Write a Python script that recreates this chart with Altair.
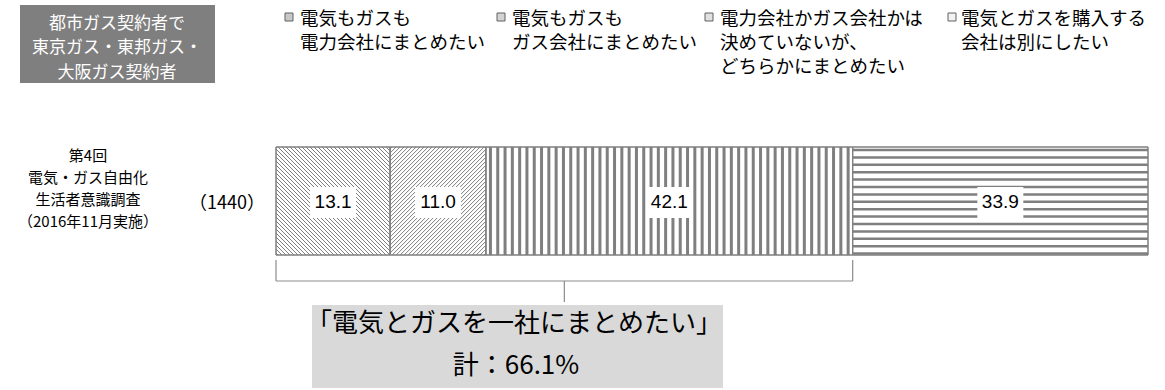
import altair as alt
import pandas as pd

# ---------------- data ----------------
categories = [
    "電気もガスも\n電力会社にまとめたい",
    "電気もガスも\nガス会社にまとめたい",
    "電力会社かガス会社かは\n決めていないが、\nどちらかにまとめたい",
    "電気とガスを購入する\n会社は別にしたい",
]
values = [13.1, 11.0, 42.1, 33.9]
patterns = ["back", "fwd", "vert", "horiz"]
row_label = ["第4回", "電気・ガス自由化", "生活者意識調査", "（2016年11月実施）"]
n_label = "（1440）"
group_title = "都市ガス契約者で\n東京ガス・東邦ガス・\n大阪ガス契約者"
total_title = "「電気とガスを一社にまとめたい」"
total_text = "計：66.1%"
grouped_count = 3  # first three segments form the bracket

# ---------------- layout constants ----------------
W, H = 1165, 390
X_RANGE = [276, 1148]
Y_RANGE = [147, 255]
JP = "Noto Sans CJK JP"
GRAY = "#7f7f7f"

total = sum(values)
starts = [sum(values[:i]) for i in range(len(values))]
ends = [s + v for s, v in zip(starts, values)]
mids = [s + v / 2 for s, v in zip(starts, values)]
PX = (X_RANGE[1] - X_RANGE[0]) / total
BAR_H = Y_RANGE[1] - Y_RANGE[0]

xs = alt.Scale(domain=[0, total], range=X_RANGE)
ys = alt.Scale(domain=[0, 1], range=Y_RANGE)

bar_df = pd.DataFrame({
    "cat": categories, "value": values, "start": starts, "end": ends,
    "mid": mids, "y0": 0.0, "y1": 1.0,
    "label": [f"{v:.1f}" for v in values],
    "bx0": [m - 23 / PX for m in mids], "bx1": [m + 23 / PX for m in mids],
    "by0": (187 - Y_RANGE[0]) / BAR_H, "by1": (218 - Y_RANGE[0]) / BAR_H,
})

# hatch lines derived from segment extents
rows = []
for s, v, pat in zip(starts, values, patterns):
    Wp = v * PX
    Hp = BAR_H
    if pat == "vert":
        u = 4.5
        while u < Wp - 1:
            rows.append(dict(x=s + u / PX, x2=s + u / PX, y=0.0, y2=1.0, w=3.0))
            u += 7.3
    elif pat == "horiz":
        t = 3.0
        while t < Hp - 1:
            rows.append(dict(x=s, x2=s + v, y=t / Hp, y2=t / Hp, w=2.5))
            t += 7.4
    elif pat == "back":
        step = 4.0
        c = -Hp + step / 2
        while c < Wp:
            u0, u1 = max(0, c), min(Wp, Hp + c)
            if u1 > u0:
                rows.append(dict(x=s + u0 / PX, x2=s + u1 / PX,
                                 y=(u0 - c) / Hp, y2=(u1 - c) / Hp, w=1.0))
            c += step
    elif pat == "fwd":
        step = 4.0
        c = step / 2
        while c < Wp + Hp:
            u0, u1 = max(0, c - Hp), min(Wp, c)
            if u1 > u0:
                rows.append(dict(x=s + u0 / PX, x2=s + u1 / PX,
                                 y=(c - u0) / Hp, y2=(c - u1) / Hp, w=1.0))
            c += step
hatch_df = pd.DataFrame(rows)

base = alt.Chart(bar_df)

bars = base.mark_rect(fill="white", stroke=GRAY, strokeWidth=1).encode(
    x=alt.X("start:Q", scale=xs, axis=None), x2="end:Q",
    y=alt.Y("y0:Q", scale=ys, axis=None), y2="y1:Q",
)
hatch = alt.Chart(hatch_df).mark_rule(color=GRAY).encode(
    x=alt.X("x:Q", scale=xs, axis=None), x2="x2:Q",
    y=alt.Y("y:Q", scale=ys, axis=None), y2="y2:Q",
    strokeWidth=alt.StrokeWidth("w:Q", scale=None),
)
outline = base.mark_rect(fillOpacity=0, stroke=GRAY, strokeWidth=1).encode(
    x=alt.X("start:Q", scale=xs, axis=None), x2="end:Q",
    y=alt.Y("y0:Q", scale=ys, axis=None), y2="y1:Q",
)
lab_box = base.mark_rect(fill="white").encode(
    x=alt.X("bx0:Q", scale=xs, axis=None), x2="bx1:Q",
    y=alt.Y("by0:Q", scale=ys, axis=None), y2="by1:Q",
)
lab_txt = base.mark_text(font="Liberation Sans", fontSize=19, color="black",
                         baseline="middle", align="center").encode(
    x=alt.X("mid:Q", scale=xs, axis=None),
    y=alt.value((Y_RANGE[0] + Y_RANGE[1]) / 2 + 1),
    text="label:N",
)

# bracket over the first three segments
br_df = pd.DataFrame({"a": [0.0], "b": [ends[grouped_count - 1]],
                      "m": [ends[grouped_count - 1] / 2]})
brc = alt.Chart(br_df)
br_color = "#8c8c8c"
br_left = brc.mark_rule(color=br_color, strokeWidth=1.2).encode(
    x=alt.X("a:Q", scale=xs, axis=None), y=alt.value(260), y2=alt.value(281))
br_right = brc.mark_rule(color=br_color, strokeWidth=1.2).encode(
    x=alt.X("b:Q", scale=xs, axis=None), y=alt.value(260), y2=alt.value(281))
br_h = brc.mark_rule(color=br_color, strokeWidth=1.2).encode(
    x=alt.X("a:Q", scale=xs, axis=None), x2="b:Q", y=alt.value(281))
br_mid = brc.mark_rule(color=br_color, strokeWidth=1.2).encode(
    x=alt.X("m:Q", scale=xs, axis=None), y=alt.value(281), y2=alt.value(302))


def ptext(txt, x, y_first, size, align="center", color="black", lh=None, font=JP):
    kw = dict(font=font, fontSize=size, align=align, baseline="middle", color=color,
              lineBreak="\n")
    if lh:
        kw["lineHeight"] = lh
    return alt.Chart(pd.DataFrame({"t": [txt]})).mark_text(**kw).encode(
        x=alt.value(x), y=alt.value(y_first), text="t:N")


def prect(x0, x1, y0, y1, fill, stroke=None):
    kw = dict(fill=fill)
    if stroke:
        kw.update(stroke=stroke, strokeWidth=1)
    return alt.Chart(pd.DataFrame({"k": [0]})).mark_rect(**kw).encode(
        x=alt.value(x0), x2=alt.value(x1), y=alt.value(y0), y2=alt.value(y1))


layers = [bars, hatch, outline, lab_box, lab_txt, br_left, br_right, br_h, br_mid]

# total box
layers.append(prect(312, 723, 305, 388, "#d9d9d9"))
layers.append(ptext(total_title, 514, 324, 26))
layers.append(ptext(total_text, 516, 366, 26))

# group title box
layers.append(prect(20, 215, 5, 83, GRAY))
layers.append(ptext(group_title, 117, 23.5, 17, color="white", lh=24.5))

# row label (one text per line) and n
ROW_LABEL_Y = [156, 178, 200, 222]
for line, yy in zip(row_label, ROW_LABEL_Y):
    layers.append(ptext(line, 88, yy, 15))
layers.append(ptext(n_label, 227, 204, 18))

# legend
LEG_ICON_X = [285, 497, 705, 948]
LEG_TEXT_X = [300, 512, 720, 961]
icon_fill = ["#c8c8c8", "#d4d4d4", "#e0e0e0", "#f2f2f2"]
for i, cat in enumerate(categories):
    layers.append(prect(LEG_ICON_X[i], LEG_ICON_X[i] + 8, 13, 21, icon_fill[i], stroke="#606060"))
    layers.append(ptext(cat, LEG_TEXT_X[i], 18.5, 18.5, align="left", lh=24))

chart = alt.layer(*layers).properties(
    width=W, height=H, padding=0, autosize=alt.AutoSizeParams(type="none"),
    background="white",
).configure_view(stroke=None)

chart.save("out.html", embed_options={"renderer": "svg", "actions": False})
